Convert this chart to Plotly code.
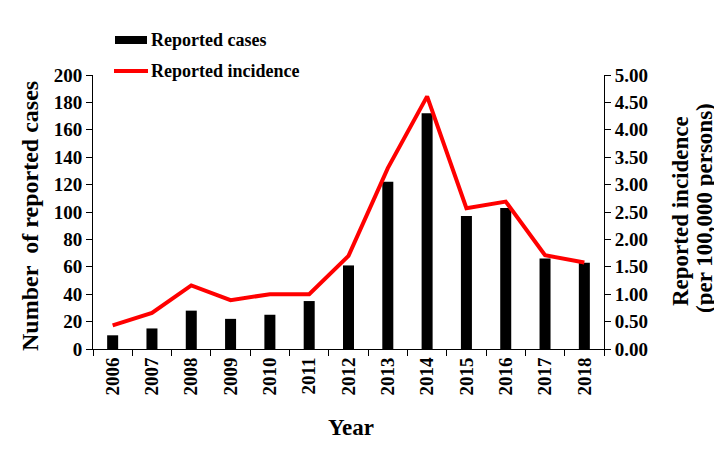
import plotly.graph_objects as go

years = ["2006", "2007", "2008", "2009", "2010", "2011", "2012",
         "2013", "2014", "2015", "2016", "2017", "2018"]
reported_cases = [10, 15, 28, 22, 25, 35, 61, 122, 172, 97, 103, 66, 63]
reported_incidence = [0.43, 0.66, 1.16, 0.89, 1.00, 1.00, 1.70,
                      3.30, 4.61, 2.57, 2.69, 1.71, 1.58]

FONT = "Liberation Serif"

fig = go.Figure()
fig.add_trace(go.Bar(
    x=years, y=reported_cases, name="Reported cases",
    marker=dict(color="black", line=dict(width=0)), width=0.28,
    yaxis="y", showlegend=False))
fig.add_trace(go.Scatter(
    x=years, y=reported_incidence, name="Reported incidence",
    mode="lines", line=dict(color="#FF0000", width=4),
    yaxis="y2", showlegend=False))

tickfont = dict(family=FONT, size=19, color="black", weight="bold")

# page body has an 8px margin, so the figure is offset by 8px
fig.update_layout(
    width=714, height=448,
    margin=dict(l=85, r=118, t=67, b=107),
    paper_bgcolor="white", plot_bgcolor="white",
    font=dict(family=FONT, color="black"),
    xaxis=dict(type="category", categoryorder="array", categoryarray=years,
               range=[-0.5, 12.5], tickson="boundaries", ticks="outside",
               ticklen=6, tickcolor="black", showline=True, linecolor="black",
               linewidth=1, showgrid=False, tickangle=-90, tickfont=tickfont),
    yaxis=dict(range=[0, 200], dtick=20, ticks="outside", ticklen=6,
               tickcolor="black", showline=True, linecolor="black",
               linewidth=1, showgrid=False, zeroline=False, tickfont=tickfont),
    yaxis2=dict(range=[0, 5], dtick=0.5, tickformat=".2f", overlaying="y",
                side="right", ticks="outside", ticklen=6, tickcolor="black",
                showline=True, linecolor="black", linewidth=1, showgrid=False,
                zeroline=False, tickfont=tickfont),
)


# helpers: reference-pixel position -> paper coordinates
def px_x(px):
    return (px - 93) / 511


def px_y(py):
    return (349 - py) / 274


titlefont = dict(family=FONT, size=24, color="black", weight="bold")
rtitlefont = dict(family=FONT, size=23, color="black", weight="bold")
fig.add_annotation(text="Number\u00a0 of reported cases", xref="paper", yref="paper",
                   x=px_x(30), y=px_y(216), textangle=-90, showarrow=False,
                   xanchor="center", yanchor="middle", font=titlefont)
fig.add_annotation(text="Reported incidence", xref="paper", yref="paper",
                   x=px_x(680), y=px_y(211), textangle=-90, showarrow=False,
                   xanchor="center", yanchor="middle", font=rtitlefont)
fig.add_annotation(text="(per 100,000 persons)", xref="paper", yref="paper",
                   x=px_x(704), y=px_y(208), textangle=-90, showarrow=False,
                   xanchor="center", yanchor="middle", font=rtitlefont)
fig.add_annotation(text="Year", xref="paper", yref="paper",
                   x=px_x(351), y=px_y(427), showarrow=False,
                   xanchor="center", yanchor="middle",
                   font=dict(family=FONT, size=23, color="black", weight="bold"))

# legend (drawn manually)
fig.add_shape(type="rect", xref="paper", yref="paper",
              x0=px_x(115), x1=px_x(147), y0=px_y(44), y1=px_y(36),
              fillcolor="black", line=dict(width=0))
fig.add_shape(type="line", xref="paper", yref="paper",
              x0=px_x(114), x1=px_x(148), y0=px_y(71), y1=px_y(71),
              line=dict(color="#FF0000", width=4))
legfont = dict(family=FONT, size=18, color="black", weight="bold")
fig.add_annotation(text="Reported cases", xref="paper", yref="paper",
                   x=px_x(149), y=px_y(40), showarrow=False,
                   xanchor="left", yanchor="middle", font=legfont)
fig.add_annotation(text="Reported incidence", xref="paper", yref="paper",
                   x=px_x(149), y=px_y(71), showarrow=False,
                   xanchor="left", yanchor="middle", font=legfont)

fig.write_html("out.html")
